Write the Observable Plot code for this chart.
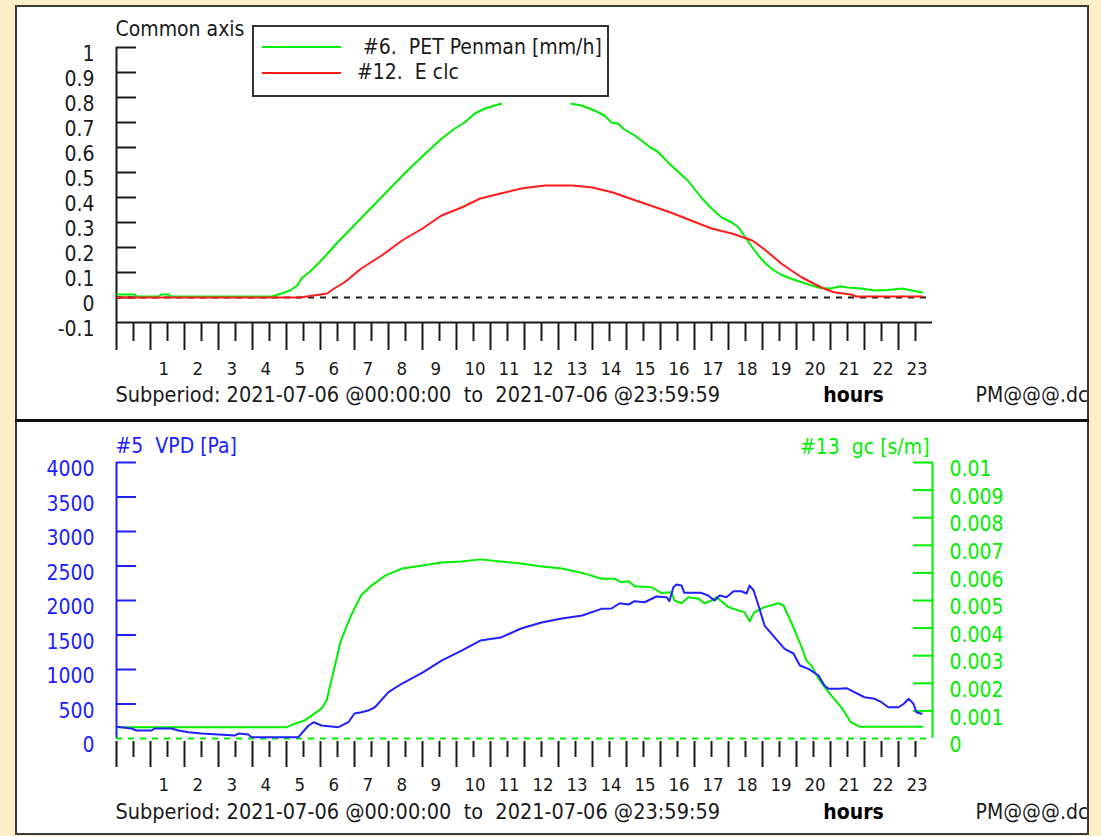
<!DOCTYPE html>
<html>
<head>
<meta charset="utf-8">
<script src="https://cdn.jsdelivr.net/npm/d3@7"></script>
<script src="https://cdn.jsdelivr.net/npm/@observablehq/plot@0.6"></script>
<style>
  html, body { margin: 0; padding: 0; }
  body { width: 1101px; height: 836px; background: #fdf0c8; position: relative; overflow: hidden;
         font-family: "DejaVu Sans Condensed", "DejaVu Sans", sans-serif; font-stretch: condensed; }
  #panel { position: absolute; left: 15px; top: 5px; width: 1074px; height: 830px; box-sizing: border-box;
           border: 2px solid #3a3a3a; background: #fff; overflow: hidden; }
  .plotbox { position: absolute; left: -17px; }
  #sep { position: absolute; left: 15px; top: 419px; width: 1074px; height: 3px; background: #111; }
  #legend { position: absolute; left: 252px; top: 25px; width: 357px; height: 72px; box-sizing: border-box;
            border: 2px solid #333; background: #fff; }
  #legend .sw { position: absolute; left: 8px; width: 79px; height: 2px; }
  #legend .lt { position: absolute; font-size: 21px; line-height: 21px; white-space: pre; color: #1a1a1a; }
</style>
</head>
<body>
<div id="panel">
  <div class="plotbox" id="topbox" style="top:-7px"></div>
  <div class="plotbox" id="botbox" style="top:413px"></div>
</div>
<div id="sep"></div>
<div id="legend">
  <div class="sw" style="top:19px;background:#00ee00"></div>
  <div class="lt" style="left:109px;top:10px">#6.  PET Penman [mm/h]</div>
  <div class="sw" style="top:45px;background:#ff1c1c"></div>
  <div class="lt" style="left:103px;top:35px">#12.  E clc</div>
</div>
<script>
// ---------- data ----------
// Top panel: #6 PET Penman [mm/h]
const petHours = [-0.47, 0.03, 0.09, 0.74, 0.82, 1.03, 1.12, 2.0, 3.0, 4.06, 4.35, 4.6, 4.82, 4.94, 5.2, 5.5, 5.8, 6.0,
  6.5, 7.0, 7.5, 8.0, 8.5, 9.06, 9.44, 9.74, 10.03, 10.32, 10.62, 10.82, 11.5, 12.3, 12.88, 13.18, 13.56, 13.85, 14.06,
  14.26, 14.41, 14.74, 14.94, 15.2, 15.4, 15.8, 16.3, 16.7, 17.0, 17.3, 17.6, 17.8, 18.0, 18.2, 18.4, 18.6, 18.8,
  19.06, 19.35, 19.65, 19.9, 20.2, 20.5, 20.8, 21.0, 21.4, 21.8, 22.2, 22.6, 22.9, 23.2];
const petMm = [0.012, 0.012, 0.004, 0.004, 0.012, 0.012, 0.004, 0.004, 0.004, 0.004, 0.016, 0.028, 0.048, 0.076, 0.105,
  0.145, 0.19, 0.22, 0.29, 0.36, 0.43, 0.5, 0.565, 0.635, 0.675, 0.70, 0.735, 0.755, 0.768, 0.775, null, null, 0.775,
  0.768, 0.748, 0.728, 0.70, 0.695, 0.675, 0.648, 0.628, 0.60, 0.585, 0.53, 0.468, 0.40, 0.356, 0.32, 0.30, 0.28, 0.24,
  0.20, 0.165, 0.135, 0.112, 0.09, 0.075, 0.061, 0.05, 0.038, 0.036, 0.045, 0.04, 0.036, 0.028, 0.03, 0.036, 0.028, 0.02];
// Top panel: #12 E clc
const eHours = [-0.47, 4.9, 5.3, 5.7, 5.9, 6.2, 6.7, 7.3, 7.9, 8.5, 9.06, 9.65, 10.2, 10.8, 11.4, 12.1, 12.9, 13.5, 14.1,
  14.6, 15.2, 15.8, 16.4, 17.0, 17.6, 18.2, 18.6, 19.06, 19.35, 19.65, 20.0, 20.3, 20.6, 21.1, 21.25, 23.2];
const eMm = [0, 0, 0.008, 0.016, 0.036, 0.06, 0.116, 0.168, 0.228, 0.276, 0.328, 0.36, 0.396, 0.416, 0.436, 0.448, 0.448,
  0.44, 0.42, 0.396, 0.368, 0.34, 0.308, 0.276, 0.256, 0.228, 0.188, 0.135, 0.108, 0.081, 0.056, 0.036, 0.021, 0.012,
  0.004, 0.004];
// Bottom panel: #5 VPD [Pa]
const vpdHours = [-0.5, -0.06, 0.09, 0.53, 0.62, 1.12, 1.32, 1.62, 2.0, 2.5, 2.97, 3.09, 3.38, 3.47, 4.35, 4.85, 4.94,
  5.15, 5.3, 5.53, 6.03, 6.32, 6.5, 6.7, 6.9, 7.1, 7.5, 7.9, 8.5, 9.06, 9.65, 10.2, 10.8, 11.4, 12.0, 12.6, 13.2, 13.76,
  14.06, 14.3, 14.56, 14.74, 15.03, 15.38, 15.68, 15.76, 15.88, 15.97, 16.12, 16.2, 16.7, 16.9, 17.09, 17.24, 17.44,
  17.65, 17.88, 18.03, 18.12, 18.24, 18.38, 18.56, 18.85, 19.15, 19.41, 19.6, 19.85, 20.15, 20.32, 20.44, 20.74, 20.97,
  21.1, 21.5, 21.8, 22.0, 22.2, 22.5, 22.65, 22.8, 22.94, 23.03, 23.18];
const vpdPa = [170, 145, 116, 116, 145, 145, 116, 91, 72, 58, 43, 72, 58, 19, 19, 19, 72, 188, 236, 188, 164, 236, 362,
  381, 405, 453, 671, 797, 956, 1130, 1275, 1420, 1463, 1594, 1680, 1739, 1782, 1879, 1884, 1960, 1942, 1990, 1975, 2058,
  2047, 1990, 2192, 2231, 2217, 2111, 2111, 2072, 2000, 2072, 2047, 2134, 2134, 2101, 2217, 2145, 1927, 1637, 1468, 1300,
  1232, 1058, 1010, 913, 768, 720, 720, 729, 696, 598, 575, 526, 453, 453, 500, 575, 503, 381, 358];
// Bottom panel: #13 gc [s/m]
const gcHours = [-0.5, 4.5, 4.73, 5.03, 5.32, 5.53, 5.68, 5.82, 6.1, 6.4, 6.7, 7.0, 7.4, 7.9, 8.5, 9.06, 9.65, 10.2, 10.8,
  11.4, 12.0, 12.6, 13.2, 13.76, 14.15, 14.35, 14.56, 14.74, 15.24, 15.53, 15.82, 15.91, 16.12, 16.32, 16.62, 16.79,
  17.0, 17.15, 17.5, 17.79, 17.97, 18.12, 18.26, 18.56, 18.97, 19.12, 19.41, 19.65, 19.79, 19.94, 20.15, 20.44, 20.82,
  21.1, 21.35, 23.2];
const gcSm = [0.00041, 0.00041, 0.00053, 0.00065, 0.0009, 0.00108, 0.00138, 0.0021, 0.00355, 0.00446, 0.0052, 0.00554,
  0.0059, 0.00616, 0.00627, 0.00638, 0.00641, 0.00649, 0.00641, 0.00634, 0.00623, 0.00616, 0.006, 0.00579, 0.00579,
  0.00566, 0.0057, 0.00552, 0.00548, 0.00527, 0.0053, 0.005, 0.0049, 0.00512, 0.00506, 0.0049, 0.005, 0.00512, 0.00476,
  0.00464, 0.00458, 0.00425, 0.00458, 0.00476, 0.0049, 0.00482, 0.00403, 0.00331, 0.00283, 0.00264, 0.00216, 0.00168,
  0.00113, 0.00059, 0.00043, 0.00043];

// ---------- ticks & labels ----------
const hourTicks = [0, 1, 2, 3, 4, 5, 6, 7, 8, 9, 10, 11, 12, 13, 14, 15, 16, 17, 18, 19, 20, 21, 22, 23];
const hourLabels = [1, 2, 3, 4, 5, 6, 7, 8, 9, 10, 11, 12, 13, 14, 15, 16, 17, 18, 19, 20, 21, 22, 23];
const commonTicks = [-0.1, 0, 0.1, 0.2, 0.3, 0.4, 0.5, 0.6, 0.7, 0.8, 0.9, 1];
const vpdTicks = [0, 500, 1000, 1500, 2000, 2500, 3000, 3500, 4000];
const gcTicks = [0, 0.001, 0.002, 0.003, 0.004, 0.005, 0.006, 0.007, 0.008, 0.009, 0.01];
const subperiod = "Subperiod: 2021-07-06 @00:00:00  to  2021-07-06 @23:59:59";
const xTitle = "hours";
const fileTag = "PM@@@.dc";
const topTitle = "Common axis";
const vpdTitle = "#5  VPD [Pa]";
const gcTitle = "#13  gc [s/m]";

// ---------- styling ----------
const FONT = '"DejaVu Sans Condensed","DejaVu Sans",sans-serif';
const ink = "#1a1a1a", grn = "#00ee00", red = "#ff1c1c", blu = "#2020ff";
const K = 4000 / 0.01; // gc mapped onto the VPD scale (right axis 0..0.01 ↔ 0..4000)
const fmt = d => String(+(+d).toFixed(4));
const longTicks = hourTicks.map(h => h - 0.5);
const baseStyle = {fontFamily: FONT, fontStretch: "condensed", fontSize: "21px", background: "transparent",
  maxWidth: "none", overflow: "visible"};

const pet = petHours.map((h, i) => ({h, v: petMm[i]}));
const eclc = eHours.map((h, i) => ({h, v: eMm[i]}));
const vpd = vpdHours.map((h, i) => ({h, v: vpdPa[i]}));
const gc = gcHours.map((h, i) => ({h, v: gcSm[i]}));

function xAxes(color, dy) {
  return [
    Plot.axisX(longTicks, {anchor: "bottom", tickSize: dy ? 26 : 28, dy, fill: "none", stroke: color, strokeWidth: 2, label: null}),
    Plot.axisX(hourTicks, {anchor: "bottom", tickSize: dy ? 16 : 19, dy, fill: "none", stroke: color, strokeWidth: 2, label: null}),
    Plot.axisX(hourLabels, {anchor: "bottom", tickSize: 0, tickPadding: 39, textAnchor: "start", dx: -9, fill: color,
      label: null, fontSize: 18.5})
  ];
}
function footer(dy) {
  return [
    Plot.text([subperiod], {frameAnchor: "bottom-left", lineAnchor: "middle", dx: -1, dy, textAnchor: "start", fill: ink, fontSize: 21.5}),
    Plot.text([xTitle], {frameAnchor: "bottom-right", lineAnchor: "middle", dx: -79, dy, textAnchor: "middle", fontWeight: "bold", fill: "#000"}),
    Plot.text([fileTag], {frameAnchor: "bottom-right", lineAnchor: "middle", dx: 43, dy, textAnchor: "start", fill: ink})
  ];
}

const topPlot = Plot.plot({
  width: 1101, height: 420,
  marginLeft: 116, marginRight: 169, marginTop: 47, marginBottom: 98,
  x: {domain: [-0.5, 23.5]},
  y: {domain: [-0.1, 1]},
  style: baseStyle,
  marks: [
    Plot.ruleX([-0.5], {stroke: ink, strokeWidth: 2}),
    Plot.ruleY([-0.1], {stroke: ink, strokeWidth: 2}),
    Plot.axisY(commonTicks.filter(v => v > -0.1), {anchor: "left", tickSize: 20, dx: 20, fill: "none", stroke: ink, strokeWidth: 2, label: null}),
    Plot.axisY(commonTicks, {anchor: "left", tickSize: 0, tickPadding: 22, dy: 7, tickFormat: fmt, fill: ink, label: null}),
    ...xAxes(ink, 0),
    Plot.ruleY([0], {stroke: ink, strokeWidth: 2, strokeDasharray: "6,6"}),
    Plot.line(pet, {x: "h", y: "v", stroke: grn, strokeWidth: 2}),
    Plot.line(eclc, {x: "h", y: "v", stroke: red, strokeWidth: 2}),
    Plot.text([topTitle], {frameAnchor: "top-left", lineAnchor: "middle", dx: -1, dy: -18, textAnchor: "start", fill: ink}),
    ...footer(73)
  ]
});
document.getElementById("topbox").append(topPlot);

const botPlot = Plot.plot({
  width: 1101, height: 416,
  marginLeft: 116, marginRight: 169, marginTop: 42, marginBottom: 98,
  x: {domain: [-0.5, 23.5]},
  y: {domain: [0, 4000]},
  style: baseStyle,
  marks: [
    Plot.ruleX([-0.5], {stroke: blu, strokeWidth: 2}),
    Plot.ruleX([23.5], {stroke: grn, strokeWidth: 2}),
    Plot.axisY(vpdTicks.filter(v => v > 0), {anchor: "left", tickSize: 20, dx: 20, fill: "none", stroke: blu, strokeWidth: 2, label: null}),
    Plot.axisY(vpdTicks, {anchor: "left", tickSize: 0, tickPadding: 22, dy: 7, tickFormat: fmt, fill: blu, label: null}),
    Plot.axisY(gcTicks.filter(v => v > 0).map(v => v * K), {anchor: "right", tickSize: 20, dx: -20, fill: "none", stroke: grn, strokeWidth: 2, label: null}),
    Plot.axisY(gcTicks.map(v => v * K), {anchor: "right", tickSize: 0, tickPadding: 17, dy: 7, tickFormat: d => fmt(d / K), fill: grn, label: null}),
    ...xAxes(ink, 3),
    Plot.ruleY([0], {stroke: grn, strokeWidth: 2, strokeDasharray: "6,6"}),
    Plot.line(gc, {x: "h", y: d => d.v * K, stroke: grn, strokeWidth: 2}),
    Plot.line(vpd, {x: "h", y: "v", stroke: blu, strokeWidth: 2}),
    Plot.text([vpdTitle], {frameAnchor: "top-left", lineAnchor: "middle", dx: -1, dy: -16, textAnchor: "start", fill: blu}),
    Plot.text([gcTitle], {frameAnchor: "top-right", lineAnchor: "middle", dx: -3, dy: -15, textAnchor: "end", fill: grn}),
    ...footer(74)
  ]
});
document.getElementById("botbox").append(botPlot);
</script>
</body>
</html>
